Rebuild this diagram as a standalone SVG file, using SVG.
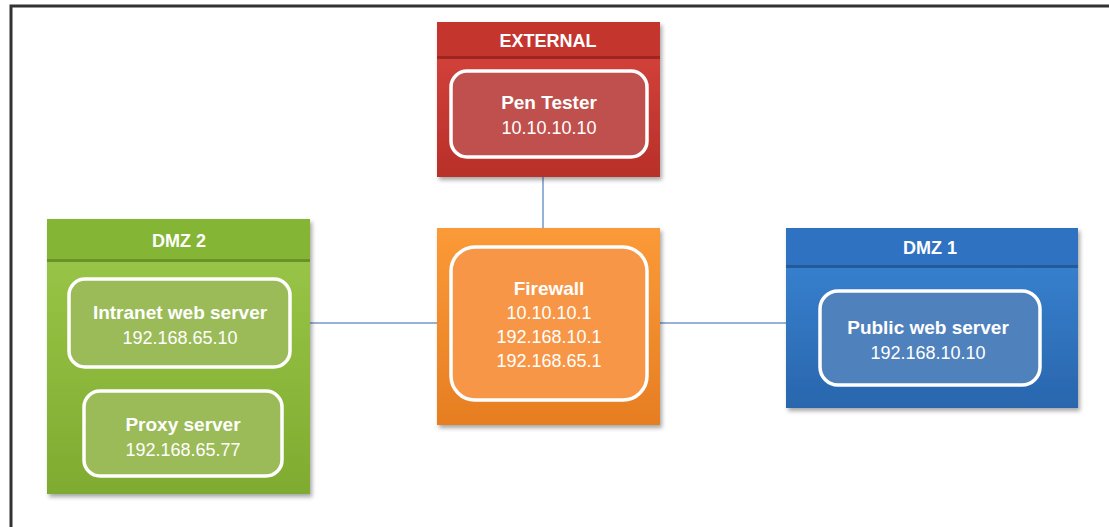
<svg xmlns="http://www.w3.org/2000/svg" width="1109" height="527" viewBox="0 0 1109 527">
<style>
.t{font-family:"Liberation Sans",Arial,sans-serif;fill:#fff;text-anchor:middle;font-weight:bold}
.h{font-size:18px}
.b{font-size:19px}
.n{font-size:18px;font-weight:normal}
.in{stroke:#fff;stroke-width:3.5}
.conn{stroke:#95b3d7;stroke-width:2;fill:none}
</style>
<defs>
<filter id="sh" x="-10%" y="-10%" width="130%" height="130%">
<feDropShadow dx="2" dy="3" stdDeviation="2" flood-color="#000" flood-opacity="0.35"/>
</filter>
<linearGradient id="gr" x1="0" y1="0" x2="0" y2="1"><stop offset="0" stop-color="#d9453e"/><stop offset="1" stop-color="#b8302a"/></linearGradient>
<linearGradient id="gg" x1="0" y1="0" x2="0" y2="1"><stop offset="0" stop-color="#9cc94a"/><stop offset="1" stop-color="#7fab30"/></linearGradient>
<linearGradient id="gb" x1="0" y1="0" x2="0" y2="1"><stop offset="0" stop-color="#3a86d6"/><stop offset="1" stop-color="#2a66ad"/></linearGradient>
<linearGradient id="go" x1="0" y1="0" x2="0" y2="1"><stop offset="0" stop-color="#fb9a38"/><stop offset="1" stop-color="#e67e22"/></linearGradient>
</defs>
<rect width="1109" height="527" fill="#fff"/>
<path d="M11 527 V6 H1109" fill="none" stroke="#333" stroke-width="3"/>
<g id="connectors">
<line class="conn" x1="543" y1="177" x2="543" y2="228"/>
<line class="conn" x1="310" y1="323" x2="437" y2="323"/>
<line class="conn" x1="660" y1="323" x2="786" y2="323"/>
</g>
<g id="external">
<rect x="437" y="22" width="223" height="155" fill="url(#gr)" filter="url(#sh)"/>
<rect x="437" y="22" width="223" height="36" fill="#c4352e"/>
<rect x="437" y="56" width="223" height="3" fill="#9e2620"/>
<text class="t h" x="548" y="47">EXTERNAL</text>
<g id="pen-tester">
<rect class="in" x="451" y="71" width="196" height="86" rx="16" fill="#c0504d"/>
<text class="t b" x="549" y="109">Pen Tester</text>
<text class="t n" x="549" y="134">10.10.10.10</text>
</g>
</g>
<g id="firewall">
<rect x="437" y="228" width="223" height="197" fill="url(#go)" filter="url(#sh)"/>
<rect class="in" x="451" y="247" width="196" height="153" rx="24" fill="#f79646"/>
<text class="t b" x="549" y="295">Firewall</text>
<text class="t n" x="549" y="319">10.10.10.1</text>
<text class="t n" x="549" y="343">192.168.10.1</text>
<text class="t n" x="549" y="367">192.168.65.1</text>
</g>
<g id="dmz2">
<rect x="47" y="219" width="263" height="275" fill="url(#gg)" filter="url(#sh)"/>
<rect x="47" y="219" width="263" height="42" fill="#84b534"/>
<rect x="47" y="259" width="263" height="3" fill="#6a9228"/>
<text class="t h" x="179" y="247">DMZ 2</text>
<g id="intranet-web-server">
<rect class="in" x="69" y="279" width="221" height="88" rx="16" fill="#9bbb59"/>
<text class="t b" x="180" y="319">Intranet web server</text>
<text class="t n" x="180" y="344">192.168.65.10</text>
</g>
<g id="proxy-server">
<rect class="in" x="84" y="391" width="198" height="85" rx="16" fill="#9bbb59"/>
<text class="t b" x="183" y="431">Proxy server</text>
<text class="t n" x="183" y="456">192.168.65.77</text>
</g>
</g>
<g id="dmz1">
<rect x="786" y="228" width="292" height="180" fill="url(#gb)" filter="url(#sh)"/>
<rect x="786" y="228" width="292" height="39" fill="#2f72c2"/>
<rect x="786" y="265" width="292" height="3" fill="#245a9a"/>
<text class="t h" x="930" y="254">DMZ 1</text>
<g id="public-web-server">
<rect class="in" x="820" y="291" width="220" height="94" rx="18" fill="#4f81bd"/>
<text class="t b" x="928" y="334">Public web server</text>
<text class="t n" x="928" y="359">192.168.10.10</text>
</g>
</g>
</svg>
